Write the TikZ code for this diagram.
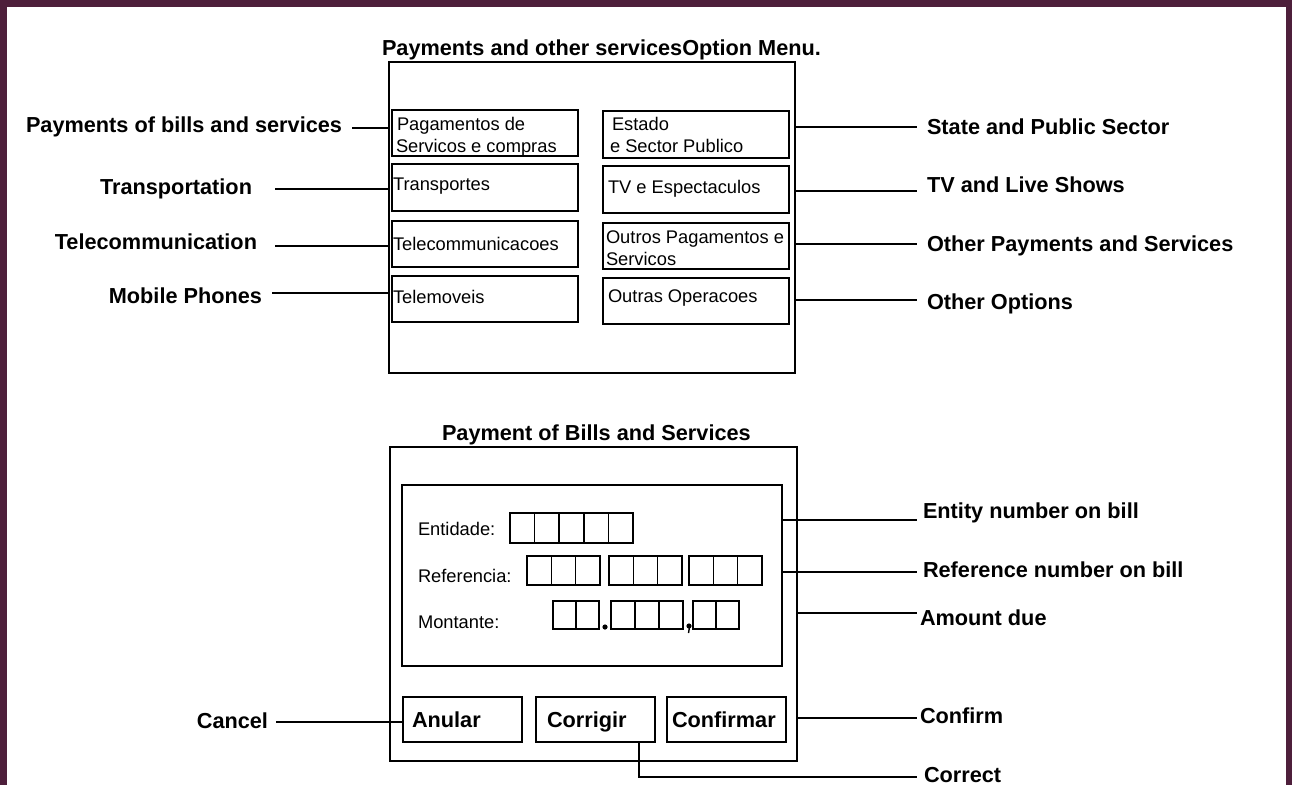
\documentclass[tikz,border=0pt]{standalone}
\usepackage{fontspec}
\setmainfont{Liberation Sans}
\definecolor{frame}{RGB}{78,31,59}
\tikzset{
  every node/.style={inner sep=0pt, outer sep=0pt},
  box/.style={draw, line width=1.7pt, anchor=north west, rectangle},
  cell/.style={draw, line width=1.6pt, anchor=north west, rectangle},
  lbl/.style={font=\fontsize{21.7}{21.7}\selectfont\bfseries},
  sml/.style={font=\fontsize{18.3}{18.3}\selectfont},
  conn/.style={line width=1.7pt}
}
\begin{document}
\begin{tikzpicture}[x=1pt,y=-1pt]
\useasboundingbox (0,0) rectangle (1292,785);
\fill[frame] (0,0) rectangle (1292,785);
\fill[white] (7,7) rectangle (1286,786);

% ---------- top menu ----------
\node[lbl, anchor=base west] (t1) at (382,55) {Payments and other servicesOption Menu.};
\node[box, minimum width=406pt, minimum height=311pt] (menu) at (389,62) {};
\node[box, minimum width=186pt, minimum height=46pt] (b1) at (392,110) {};
\node[box, minimum width=186pt, minimum height=47pt] (b2) at (392,164) {};
\node[box, minimum width=186pt, minimum height=46pt] (b3) at (392,221) {};
\node[box, minimum width=186pt, minimum height=46pt] (b4) at (392,276) {};
\node[box, minimum width=186pt, minimum height=47pt] (r1) at (603,111) {};
\node[box, minimum width=186pt, minimum height=47pt] (r2) at (603,166) {};
\node[box, minimum width=186pt, minimum height=46pt] (r3) at (603,223) {};
\node[box, minimum width=186pt, minimum height=46pt] (r4) at (603,278) {};

\node[sml, anchor=base west] (b1a) at (397,130) {Pagamentos de};
\node[sml, anchor=base west] (b1b) at (396,152) {Servicos e compras};
\node[sml, anchor=base west] (b2a) at (393,190) {Transportes};
\node[sml, anchor=base west] (b3a) at (393,250) {Telecommunicacoes};
\node[sml, anchor=base west] (b4a) at (393,303) {Telemoveis};
\node[sml, anchor=base west] (r1a) at (612,130) {Estado};
\node[sml, anchor=base west] (r1b) at (610,152) {e Sector Publico};
\node[sml, anchor=base west] (r2a) at (608,193) {TV e Espectaculos};
\node[sml, anchor=base west] (r3a) at (606,243) {Outros Pagamentos e};
\node[sml, anchor=base west] (r3b) at (606,265) {Servicos};
\node[sml, anchor=base west] (r4a) at (608,302) {Outras Operacoes};

% left labels
\node[lbl, anchor=base east] (L1) at (342,132) {Payments of bills and services};
\node[lbl, anchor=base east] (L2) at (252,194) {Transportation};
\node[lbl, anchor=base east] (L3) at (257,249) {Telecommunication};
\node[lbl, anchor=base east] (L4) at (262,303) {Mobile Phones};
\coordinate (cl1) at (352,128);
\coordinate (cl2) at (275,189);
\coordinate (cl3) at (275,246);
\coordinate (cl4) at (272,293);
\draw[conn] (cl1) -- (cl1 -| menu.west);
\draw[conn] (cl2) -- (cl2 -| menu.west);
\draw[conn] (cl3) -- (cl3 -| menu.west);
\draw[conn] (cl4) -- (cl4 -| menu.west);

% right labels
\node[lbl, anchor=base west] (R1) at (927,134) {State and Public Sector};
\node[lbl, anchor=base west] (R2) at (927,192) {TV and Live Shows};
\node[lbl, anchor=base west] (R3) at (927,251) {Other Payments and Services};
\node[lbl, anchor=base west] (R4) at (927,309) {Other Options};
\coordinate (cr1) at (917,127);
\coordinate (cr2) at (917,191);
\coordinate (cr3) at (917,244);
\coordinate (cr4) at (917,300);
\draw[conn] (cr1 -| menu.east) -- (cr1);
\draw[conn] (cr2 -| menu.east) -- (cr2);
\draw[conn] (cr3 -| menu.east) -- (cr3);
\draw[conn] (cr4 -| menu.east) -- (cr4);

% ---------- bottom form ----------
\node[lbl, anchor=base west] (t2) at (442,440) {Payment of Bills and Services};
\node[box, minimum width=407pt, minimum height=314pt] (pay) at (390,447) {};
\node[box, minimum width=380pt, minimum height=181pt] (form) at (402,485) {};

\node[sml, anchor=base west] (ent) at (418,535) {Entidade:};
\node[sml, anchor=base west] (ref) at (418,582) {Referencia:};
\node[sml, anchor=base west] (mon) at (418,628) {Montante:};

\foreach \i in {0,...,4}
  \node[cell, minimum width=24.6pt, minimum height=30pt] (e\i) at (510+24.6*\i,513) {};
\foreach \g/\x in {0/527,1/609,2/689}
  \foreach \i in {0,1,2}
    \node[cell, minimum width=24.3pt, minimum height=29pt] (rf\g\i) at (\x+24.3*\i,556) {};
\foreach \i in {0,1}
  \node[cell, minimum width=23pt, minimum height=28pt] (ma\i) at (553+23*\i,601) {};
\foreach \i in {0,1,2}
  \node[cell, minimum width=24pt, minimum height=28pt] (mb\i) at (611+24*\i,601) {};
\foreach \i in {0,1}
  \node[cell, minimum width=23pt, minimum height=28pt] (mc\i) at (693+23*\i,601) {};
\fill (605,627) circle (2.6pt);
\fill (689,626) circle (2.6pt);
\draw[line width=1.4pt] (689.5,627) -- (688.5,633);

\node[box, minimum width=119pt, minimum height=45pt] (anular) at (403,697) {};
\node[box, minimum width=119pt, minimum height=45pt] (corrigir) at (536,697) {};
\node[box, minimum width=119pt, minimum height=45pt] (confirmar) at (667,697) {};
\node[lbl, anchor=base west] (anl) at (412,727) {Anular};
\node[lbl, anchor=base west] (crl) at (547,727) {Corrigir};
\node[lbl, anchor=base west] (cfl) at (672,727) {Confirmar};

% bottom labels and connectors
\node[lbl, anchor=base west] (E1) at (923,518) {Entity number on bill};
\node[lbl, anchor=base west] (E2) at (923,577) {Reference number on bill};
\node[lbl, anchor=base west] (E3) at (920,625) {Amount due};
\node[lbl, anchor=base west] (E4) at (920,723) {Confirm};
\node[lbl, anchor=base west] (E5) at (924,782) {Correct};
\node[lbl, anchor=base east] (E6) at (268,728) {Cancel};
\coordinate (ce1) at (917,520);
\coordinate (ce2) at (917,572);
\coordinate (ce3) at (917,613);
\coordinate (ce4) at (917,718);
\coordinate (ce5) at (917,777);
\coordinate (ce6) at (276,722);
\draw[conn] (ce1 -| form.east) -- (ce1);
\draw[conn] (ce2 -| form.east) -- (ce2);
\draw[conn] (ce3 -| pay.east) -- (ce3);
\draw[conn] (ce4 -| pay.east) -- (ce4);
\draw[conn] ([xshift=43.5pt]corrigir.south) -- ([xshift=43.5pt]corrigir.south |- ce5) -- (ce5);
\draw[conn] (ce6) -- (ce6 -| anular.west);
\end{tikzpicture}
\end{document}
